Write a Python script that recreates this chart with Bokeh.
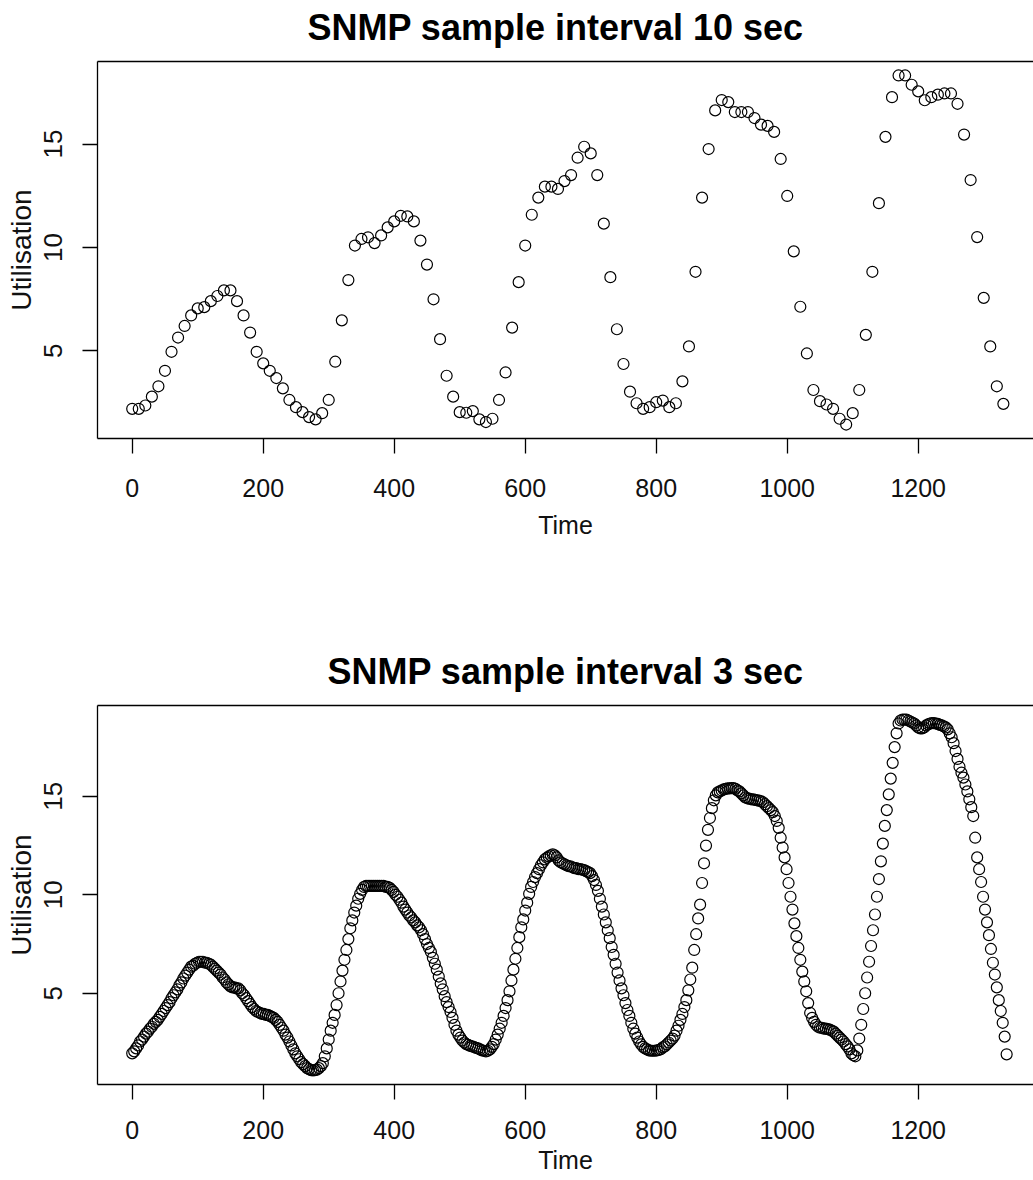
from bokeh.plotting import figure
from bokeh.layouts import column
from bokeh.models import Range1d, FixedTicker, LinearAxis
from bokeh.embed import file_html
from bokeh.resources import INLINE

# ---------------- data ----------------
title_10s = "SNMP sample interval 10 sec"
title_3s = "SNMP sample interval 3 sec"
x_label = "Time"
y_label = "Utilisation"
x_ticks = [0, 200, 400, 600, 800, 1000, 1200]
y_ticks = [5, 10, 15]

step_10s = 10
util_10s = [
    2.19, 2.19, 2.35, 2.78, 3.28, 4.03, 4.95, 5.64, 6.20, 6.71,
    7.05, 7.11, 7.40, 7.65, 7.92, 7.92, 7.40, 6.71, 5.88, 4.95,
    4.39, 4.03, 3.68, 3.18, 2.62, 2.27, 2.03, 1.79, 1.68, 1.98,
    2.62, 4.47, 6.47, 8.42, 10.09, 10.41, 10.49, 10.21, 10.58, 10.97,
    11.26, 11.53, 11.50, 11.26, 10.33, 9.17, 7.49, 5.56, 3.79, 2.78,
    2.03, 2.00, 2.08, 1.68, 1.55, 1.71, 2.62, 3.95, 6.12, 8.32,
    10.09, 11.58, 12.41, 12.94, 12.94, 12.83, 13.21, 13.50, 14.34, 14.87,
    14.55, 13.50, 11.15, 8.56, 6.04, 4.36, 3.02, 2.46, 2.19, 2.27,
    2.51, 2.59, 2.27, 2.46, 3.52, 5.21, 8.82, 12.41, 14.76, 16.63,
    17.13, 17.03, 16.55, 16.55, 16.55, 16.26, 15.94, 15.88, 15.59, 14.28,
    12.49, 9.81, 7.13, 4.87, 3.10, 2.56, 2.40, 2.19, 1.71, 1.43,
    1.98, 3.10, 5.77, 8.82, 12.14, 15.35, 17.27, 18.32, 18.32, 17.87,
    17.55, 17.12, 17.27, 17.39, 17.45, 17.45, 16.95, 15.46, 13.26, 10.50,
    7.56, 5.21, 3.28, 2.43,
]

step_3s = 3
util_3s = [
    1.95, 2.05, 2.2, 2.35, 2.55, 2.65, 2.8, 2.95, 3.05, 3.2, 3.3, 3.45, 3.55, 3.65, 3.8, 3.95,
    4.1, 4.25, 4.4, 4.55, 4.75, 4.9, 5.05, 5.2, 5.4, 5.55, 5.75, 5.9, 6.05, 6.2, 6.35,
    6.4, 6.5, 6.55, 6.6, 6.6, 6.6, 6.55, 6.55, 6.5, 6.45, 6.35, 6.25, 6.15, 6.05, 5.95, 5.8, 5.7, 5.55, 5.45, 5.35,
    5.3, 5.3, 5.25, 5.25, 5.15, 5.0, 4.9, 4.75, 4.6, 4.45, 4.3, 4.2, 4.1, 4.05, 4.0, 3.95, 3.95, 3.9, 3.9, 3.85,
    3.8, 3.75, 3.65, 3.55, 3.4, 3.25, 3.1, 2.9, 2.75, 2.55, 2.35, 2.15, 1.95, 1.8, 1.65, 1.5, 1.4, 1.3, 1.2, 1.15,
    1.1, 1.08, 1.1, 1.12, 1.2, 1.3, 1.45, 1.8, 2.2, 2.65, 3.1, 3.5, 3.9, 4.4, 5.0, 5.6, 6.15, 6.7, 7.2, 7.75,
    8.3, 8.7, 9.1, 9.45, 9.8, 10.05, 10.25, 10.4, 10.45, 10.45, 10.45, 10.45, 10.45, 10.45, 10.45, 10.45, 10.45, 10.45, 10.4, 10.4,
    10.35, 10.25, 10.15, 10.0, 9.9, 9.75, 9.6, 9.4, 9.25, 9.1, 8.95, 8.85, 8.7, 8.6, 8.45, 8.35, 8.2, 8.0, 7.75, 7.5,
    7.3, 7.1, 6.8, 6.5, 6.2, 5.85, 5.5, 5.2, 4.85, 4.55, 4.3, 4.05, 3.75, 3.4, 3.1, 2.9, 2.75, 2.6, 2.5, 2.42,
    2.38, 2.33, 2.3, 2.27, 2.23, 2.2, 2.15, 2.1, 2.08, 2.05, 2.08, 2.15, 2.28, 2.42, 2.65, 2.9, 3.2, 3.5, 3.85, 4.25,
    4.65, 5.1, 5.65, 6.2, 6.75, 7.3, 7.85, 8.35, 8.75, 9.2, 9.6, 10.05, 10.4, 10.65, 10.9, 11.1, 11.3, 11.5, 11.65, 11.8,
    11.88, 11.95, 12.0, 12.05, 12.0, 11.9, 11.75, 11.65, 11.6, 11.55, 11.5, 11.45, 11.45, 11.4, 11.35, 11.35, 11.3, 11.3, 11.28, 11.25,
    11.2, 11.15, 11.1, 10.95, 10.75, 10.5, 10.2, 9.8, 9.4, 9.0, 8.6, 8.2, 7.8, 7.35, 6.95, 6.5, 6.05, 5.65, 5.25, 4.9,
    4.5, 4.15, 3.85, 3.5, 3.2, 2.95, 2.75, 2.55, 2.4, 2.28, 2.2, 2.15, 2.1, 2.08, 2.08, 2.08, 2.1, 2.12, 2.16, 2.25,
    2.3, 2.4, 2.5, 2.6, 2.7, 2.85, 3.1, 3.35, 3.65, 3.95, 4.3, 4.65, 5.15, 5.7, 6.3, 7.2, 8.0, 8.8, 9.5, 10.6,
    11.6, 12.5, 13.3, 13.9, 14.4, 14.8, 15.05, 15.2, 15.25, 15.3, 15.35, 15.38, 15.4, 15.4, 15.42, 15.42, 15.38, 15.3, 15.25, 15.15,
    15.05, 14.95, 14.9, 14.88, 14.85, 14.85, 14.82, 14.8, 14.78, 14.75, 14.7, 14.6, 14.5, 14.4, 14.3, 14.2, 14.0, 13.75, 13.4, 12.9,
    12.4, 11.9, 11.3, 10.6, 9.9, 9.25, 8.55, 7.9, 7.3, 6.7, 6.1, 5.6, 5.1, 4.5, 4.0, 3.75, 3.55, 3.4, 3.3, 3.25,
    3.25, 3.2, 3.2, 3.18, 3.15, 3.1, 3.05, 2.95, 2.85, 2.75, 2.65, 2.55, 2.42, 2.3, 2.15, 1.95, 1.85, 1.8, 2.1, 2.7,
    3.4, 4.2, 5.0, 5.8, 6.6, 7.4, 8.2, 9.0, 9.9, 10.8, 11.7, 12.6, 13.5, 14.3, 15.1, 15.9, 16.7, 17.5, 18.2, 18.7,
    18.85, 18.9, 18.9, 18.9, 18.85, 18.8, 18.75, 18.7, 18.6, 18.5, 18.45, 18.45, 18.5, 18.6, 18.65, 18.7, 18.72, 18.72, 18.7, 18.68,
    18.63, 18.6, 18.55, 18.5, 18.4, 18.2, 18.0, 17.7, 17.3, 16.9, 16.5, 16.2, 15.95, 15.6, 15.25, 14.85, 14.45, 14.0, 12.9, 11.9,
    11.3, 10.65, 9.9, 9.25, 8.6, 7.95, 7.25, 6.55, 5.95, 5.3, 4.65, 4.1, 3.5, 2.8, 1.9,
]

time_10s = [step_10s * i for i in range(len(util_10s))]
time_3s = [step_3s * i for i in range(len(util_3s))]

FONT = "Liberation Sans"


def make_panel(title, t, u, height, border_bottom, title_offset, xl_standoff, xa_standoff):
    lo, hi = min(u), max(u)
    pad = 0.04 * (hi - lo)
    p = figure(width=1033, height=height,
               x_range=Range1d(-53.0, 1376.0),
               y_range=Range1d(lo - pad, hi + pad),
               output_backend="svg", toolbar_location=None,
               min_border_left=97, min_border_right=0,
               min_border_top=60, min_border_bottom=border_bottom,
               title=title)
    p.background_fill_color = "white"
    p.border_fill_color = "white"
    p.outline_line_color = None
    p.grid.visible = False

    p.title.align = "left"
    p.title.offset = title_offset
    p.title.text_font = FONT
    p.title.text_font_size = "36px"
    p.title.text_font_style = "bold"
    p.title.text_color = "black"
    p.title.standoff = 8

    xa = p.below[0]
    ya = p.left[0]

    xa.ticker = FixedTicker(ticks=x_ticks)
    xa.axis_line_color = "black"
    xa.axis_line_width = 1.3
    xa.major_tick_in = 0
    xa.major_tick_out = 15
    xa.major_tick_line_color = "black"
    xa.major_tick_line_width = 1.3
    xa.minor_tick_line_color = None
    xa.major_label_text_font = FONT
    xa.major_label_text_font_size = "25px"
    xa.major_label_text_color = "#111111"
    xa.major_label_standoff = xl_standoff
    xa.axis_label = x_label
    xa.axis_label_text_font = FONT
    xa.axis_label_text_font_size = "25px"
    xa.axis_label_text_font_style = "normal"
    xa.axis_label_text_color = "#111111"
    xa.axis_label_standoff = xa_standoff

    ya.ticker = FixedTicker(ticks=y_ticks)
    ya.axis_line_color = "black"
    ya.axis_line_width = 1.3
    ya.major_tick_in = 0
    ya.major_tick_out = 15
    ya.major_tick_line_color = "black"
    ya.major_tick_line_width = 1.3
    ya.minor_tick_line_color = None
    ya.major_label_orientation = "vertical"
    ya.major_label_text_font = FONT
    ya.major_label_text_font_size = "26px"
    ya.major_label_text_color = "#111111"
    ya.major_label_standoff = 20
    ya.axis_label = y_label
    ya.axis_label_text_font = FONT
    ya.axis_label_text_font_size = "28px"
    ya.axis_label_text_font_style = "normal"
    ya.axis_label_text_color = "#111111"
    ya.axis_label_standoff = 5

    # top border of the R style box (its right side falls outside the page);
    # its invisible tick leaves a small gap below the title
    top = LinearAxis(ticker=FixedTicker(ticks=[0]), axis_line_color="black",
                     axis_line_width=1.3, major_tick_in=0, major_tick_out=10,
                     major_tick_line_color=None, minor_tick_line_color=None,
                     major_label_standoff=0, major_label_text_font_size="0px",
                     major_label_text_color=None,
                     major_label_overrides={0: ""})
    p.add_layout(top, "above")

    p.scatter(t, u, marker="circle", size=11, fill_color=None,
              line_color="black", line_width=1.2)
    return p


p1 = make_panel(title_10s, time_10s, util_10s, 644, 206, 210, 25, 11)
p2 = make_panel(title_3s, time_3s, util_3s, 536, 96, 230, 21, 4)

layout = column(p1, p2, spacing=0)
open("out.html", "w").write(file_html(layout, INLINE))
